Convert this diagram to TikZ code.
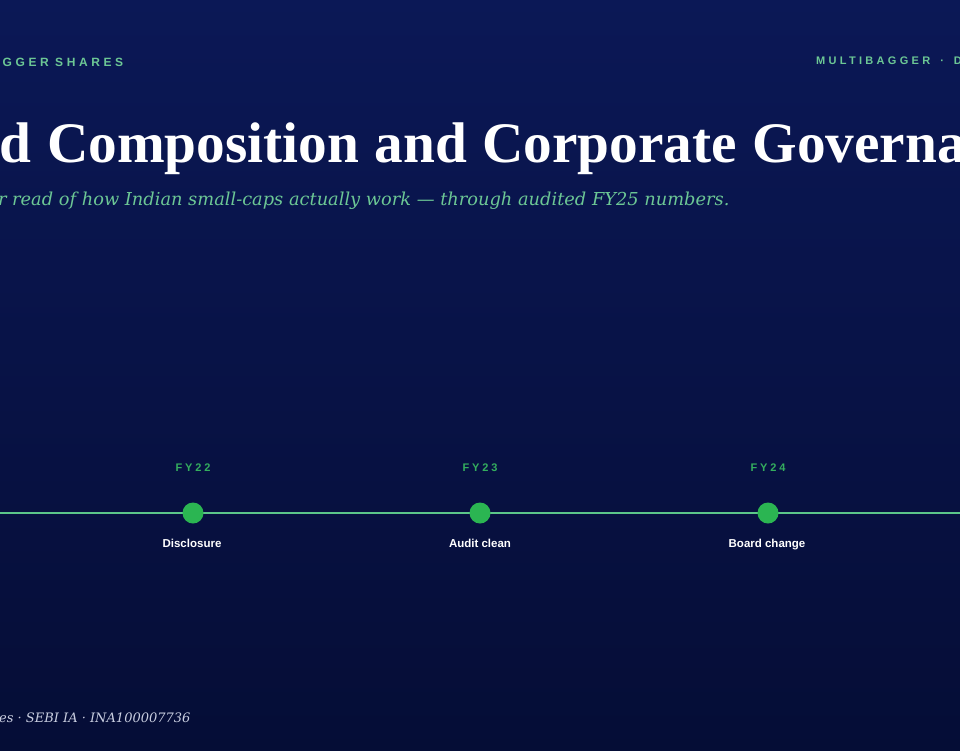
\documentclass[tikz,border=0pt]{standalone}
\usepackage{fontspec}
\setmainfont{DejaVu Serif}
\newfontfamily\headfont{Liberation Serif}
\newfontfamily\subfont{DejaVu Serif}
\newfontfamily\trackfont[LetterSpace=30]{Liberation Sans}
\newfontfamily\yearfont[LetterSpace=26]{Liberation Sans}
\newfontfamily\labfont{Liberation Sans}
\definecolor{navytop}{HTML}{0B1856}
\definecolor{navybot}{HTML}{050D36}
\definecolor{mint}{HTML}{6CC795}
\definecolor{linegreen}{HTML}{5CC68A}
\definecolor{dotgreen}{HTML}{2BB552}
\definecolor{yeargreen}{HTML}{34AE5E}
\definecolor{footgrey}{HTML}{C9CEE0}
\begin{document}
\begin{tikzpicture}[x=1pt,y=-1pt]
    \tikzstyle{every node}+=[inner sep=0pt]
    \tikzset{
      kicker/.style={anchor=base west, text=mint, font=\trackfont\bfseries\fontsize{12}{12}\selectfont},
      yearlbl/.style={anchor=base, text=yeargreen, font=\yearfont\bfseries\fontsize{11}{11}\selectfont},
      eventlbl/.style={anchor=base, text=white, font=\labfont\bfseries\fontsize{11.5}{11.5}\selectfont},
      dot/.style={circle, fill=dotgreen, minimum size=21pt}
    }
    \useasboundingbox (0,0) rectangle (960,750);
    \clip (0,0) rectangle (960,750);
    \shade [top color=navytop, bottom color=navybot] (0,0) rectangle (960,750);
    % header
    \node [kicker, anchor=base east] (brandA) at (49,66) {MULTIBAGGER};
    \node [kicker] (brandB) at (55,66) {SHARES};
    \node [kicker, font=\trackfont\bfseries\fontsize{11}{11}\selectfont] (brandr) at (816,64) {MULTIBAGGER\hspace{10pt}·\hspace{10pt}D};
    \node [anchor=base west, text=white, font=\headfont\bfseries\fontsize{57.3}{57.3}\selectfont] (title) at (47,162) {\spaceskip=0.27em\relax\llap{Board }Composition and Corporate Governance};
    \node [anchor=base west, text=mint, font=\subfont\itshape\fontsize{17.8}{17.8}\selectfont] (subtitle) at (12,205) {\llap{r }read of how Indian small-caps actually work — through audited FY25 numbers.};
    % timeline
    \coordinate (lineL) at (0,513);
    \coordinate (lineR) at (960,513);
    \draw [linegreen, line width=2.6pt] (lineL) -- (lineR);
    \node [dot] (dot22) at (193,513) {};
    \node [dot] (dot23) at (480,513) {};
    \node [dot] (dot24) at (768,513) {};
    \node [yearlbl] (fy22) at (193,471) {FY22};
    \node [yearlbl] (fy23) at (480,471) {FY23};
    \node [yearlbl] (fy24) at (768,471) {FY24};
    \node [eventlbl] (ev22) at (192,547) {Disclosure};
    \node [eventlbl] (ev23) at (480,547) {Audit clean};
    \node [eventlbl] (ev24) at (767,547) {Board change};
    % footer
    \node [anchor=base west, text=footgrey, font=\subfont\itshape\fontsize{13}{13}\selectfont] (foot) at (-1,722) {es · SEBI IA · INA100007736};
\end{tikzpicture}
\end{document}
